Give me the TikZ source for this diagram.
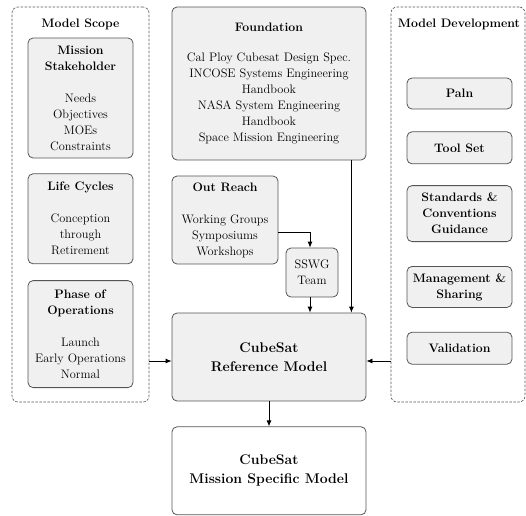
\documentclass[tikz,border=0pt]{standalone}
\usetikzlibrary{arrows.meta,positioning}
\definecolor{boxfill}{RGB}{240,240,240}
\definecolor{boxline}{RGB}{85,85,85}

\begin{document}
\begin{tikzpicture}[x=1pt, y=-1pt,
    main/.style = {draw=boxline, thick, fill=boxfill, rounded corners=5pt, align=center,
                   inner sep=2pt, minimum width=105pt, font=\fontsize{12.3}{16}\selectfont},
    group/.style = {draw=boxline, semithick, dash pattern=on 2.5pt off 1.5pt, rounded corners=6pt, minimum height=395pt},
    head/.style = {font=\fontsize{12.3}{16}\selectfont\bfseries},
    bold/.style = {main, font=\fontsize{12.3}{16}\selectfont\bfseries},
    big/.style = {main, minimum width=194pt, minimum height=88pt, font=\fontsize{14}{19}\selectfont\bfseries},
    link/.style = {-{Latex[length=6pt,width=5pt]}, thick}]

    \useasboundingbox (0,0) rectangle (526,515);

    % model scope
    \node[group, minimum width=137pt] (scope) at (80.5,204.5) {};
    \node[head] (scopehead) at (80.5,24) {Model Scope};
    \node[main, minimum height=120pt] (stake) at (80.5,98)
        {\textbf{Mission}\\\textbf{Stakeholder}\\[16pt]Needs\\Objectives\\MOEs\\Constraints};
    \node[main, minimum height=90pt, below=15pt of stake] (life)
        {\textbf{Life Cycles}\\[16pt]Conception\\through\\Retirement};
    \node[main, minimum height=107pt, below=16pt of life] (phase)
        {\textbf{Phase of}\\\textbf{Operations}\\[16pt]Launch\\Early Operations\\Normal};

    % foundation and out reach
    \node[main, minimum width=194pt, minimum height=153pt] (found) at (269,83.5)
        {\textbf{Foundation}\\[14pt]Cal Ploy Cubesat Design Spec.\\INCOSE Systems Engineering\\Handbook\\NASA System Engineering\\Handbook\\Space Mission Engineering};
    \node[main, minimum width=106pt, minimum height=88pt] (out) at (225,220)
        {\textbf{Out Reach}\\[16pt]Working Groups\\Symposiums\\Workshops};
    \node[main, minimum width=52pt, minimum height=49pt] (sswg) at (312,272.5) {SSWG\\Team};

    % models
    \node[big] (ref) at (269,357) {CubeSat\\Reference Model};
    \node[big, fill=white, below=25pt of ref] (msm) {CubeSat\\Mission Specific Model};

    % model development
    \node[group, minimum width=134pt] (devel) at (458,204.5) {};
    \node[head] (develhead) at (459,24) {Model Development};
    \node[bold, minimum height=31pt] (paln) at (459.5,93.5) {Paln};
    \node[bold, minimum height=32pt, below=22pt of paln] (tool) {Tool Set};
    \node[bold, minimum height=56pt, below=21pt of tool] (std) {Standards \&\\Conventions\\Guidance};
    \node[bold, minimum height=41pt, below=24pt of std] (mgmt) {Management \&\\Sharing};
    \node[bold, minimum height=32pt, below=24pt of mgmt] (valid) {Validation};

    % links
    \draw[link] ([yshift=-4pt]ref.west -| scope.east) -- ([yshift=-4pt]ref.west);
    \draw[link] ([yshift=-4pt]ref.east -| devel.west) -- ([yshift=-4pt]ref.east);
    \draw[link] ([xshift=-15pt]found.south east) -- ([xshift=-15pt]ref.north east);
    \draw[link] ([yshift=-12pt]out.east) -| ([xshift=-2pt]sswg.north);
    \draw[link] ([xshift=-2pt]sswg.south) -- ([xshift=-2pt]sswg.south |- ref.north);
    \draw[link] (ref) -- (msm);
\end{tikzpicture}
\end{document}
